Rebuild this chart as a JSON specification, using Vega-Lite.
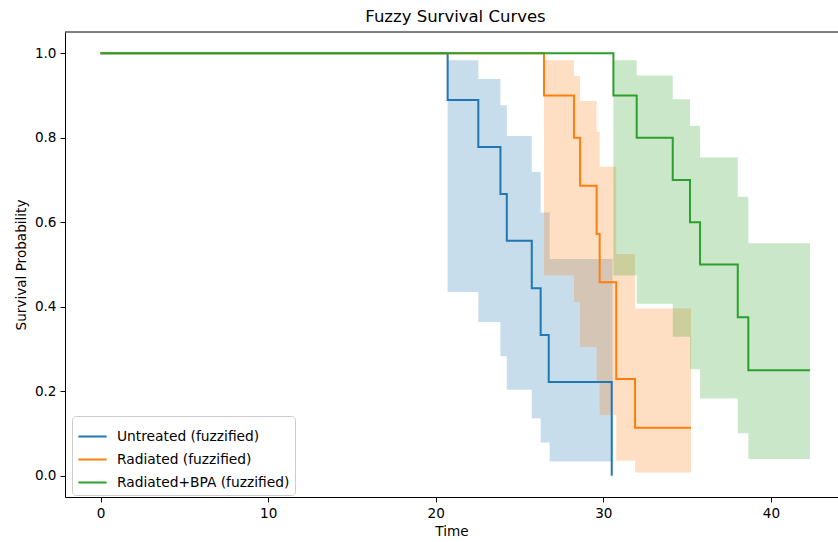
{
  "$schema": "https://vega.github.io/schema/vega-lite/v6.json",
  "width": 773,
  "height": 465,
  "autosize": {"type": "none"},
  "padding": {"left": 65, "top": 32, "right": 0, "bottom": 45},
  "title": {"text": "Fuzzy Survival Curves", "fontSize": 16.5, "font": "DejaVu Sans", "fontWeight": "normal", "color": "#000", "anchor": "middle", "offset": 6, "dx": 4},
  "config": {
    "view": {"stroke": null},
    "axis": {"domainColor": "#000", "domainWidth": 1, "tickColor": "#000", "tickSize": 5, "tickWidth": 1, "labelFont": "DejaVu Sans", "labelFontSize": 13.6, "labelColor": "#000", "labelPadding": 4, "titleFont": "DejaVu Sans", "titleFontSize": 13.6, "titleFontWeight": "normal", "titleColor": "#000", "grid": false},
    "axisY": {"titlePadding": 6},
    "axisX": {"titlePadding": 5},
    "legend": {"orient": "none", "legendX": 7, "legendY": 384, "title": null, "symbolType": "stroke", "symbolSize": 800, "symbolStrokeWidth": 2, "labelFont": "DejaVu Sans", "labelFontSize": 13.8, "labelColor": "#000", "labelOffset": 9, "labelLimit": 0, "rowPadding": -2.5, "padding": 5, "fillColor": "rgba(255,255,255,0.8)", "strokeColor": "#cccccc", "cornerRadius": 4}
  },
  "datasets": {
    "lines": [
      {"group": "Untreated (fuzzified)", "t": 0, "s": 1.0},
      {"group": "Untreated (fuzzified)", "t": 20.71, "s": 0.889},
      {"group": "Untreated (fuzzified)", "t": 22.54, "s": 0.778},
      {"group": "Untreated (fuzzified)", "t": 23.86, "s": 0.667},
      {"group": "Untreated (fuzzified)", "t": 24.24, "s": 0.556},
      {"group": "Untreated (fuzzified)", "t": 25.73, "s": 0.444},
      {"group": "Untreated (fuzzified)", "t": 26.26, "s": 0.333},
      {"group": "Untreated (fuzzified)", "t": 26.74, "s": 0.222},
      {"group": "Untreated (fuzzified)", "t": 30.5, "s": 0.0},
      {"group": "Radiated (fuzzified)", "t": 0, "s": 1.0},
      {"group": "Radiated (fuzzified)", "t": 26.46, "s": 0.9},
      {"group": "Radiated (fuzzified)", "t": 28.25, "s": 0.8},
      {"group": "Radiated (fuzzified)", "t": 28.61, "s": 0.686},
      {"group": "Radiated (fuzzified)", "t": 29.6, "s": 0.572},
      {"group": "Radiated (fuzzified)", "t": 29.78, "s": 0.458},
      {"group": "Radiated (fuzzified)", "t": 30.77, "s": 0.229},
      {"group": "Radiated (fuzzified)", "t": 31.89, "s": 0.114},
      {"group": "Radiated (fuzzified)", "t": 35.23, "s": 0.114},
      {"group": "Radiated+BPA (fuzzified)", "t": 0, "s": 1.0},
      {"group": "Radiated+BPA (fuzzified)", "t": 30.6, "s": 0.9},
      {"group": "Radiated+BPA (fuzzified)", "t": 31.99, "s": 0.8},
      {"group": "Radiated+BPA (fuzzified)", "t": 34.14, "s": 0.7},
      {"group": "Radiated+BPA (fuzzified)", "t": 35.17, "s": 0.6},
      {"group": "Radiated+BPA (fuzzified)", "t": 35.77, "s": 0.5},
      {"group": "Radiated+BPA (fuzzified)", "t": 38.02, "s": 0.375},
      {"group": "Radiated+BPA (fuzzified)", "t": 38.65, "s": 0.25},
      {"group": "Radiated+BPA (fuzzified)", "t": 42.33, "s": 0.25}
    ],
    "bands": [
      {"group": "Untreated (fuzzified)", "t": 20.71, "lo": 0.435, "hi": 0.983},
      {"group": "Untreated (fuzzified)", "t": 22.54, "lo": 0.364, "hi": 0.939},
      {"group": "Untreated (fuzzified)", "t": 23.86, "lo": 0.283, "hi": 0.877},
      {"group": "Untreated (fuzzified)", "t": 24.24, "lo": 0.204, "hi": 0.804},
      {"group": "Untreated (fuzzified)", "t": 25.73, "lo": 0.136, "hi": 0.719},
      {"group": "Untreated (fuzzified)", "t": 26.26, "lo": 0.079, "hi": 0.623},
      {"group": "Untreated (fuzzified)", "t": 26.8, "lo": 0.034, "hi": 0.513},
      {"group": "Untreated (fuzzified)", "t": 30.55, "lo": 0.034, "hi": 0.513},
      {"group": "Radiated (fuzzified)", "t": 26.46, "lo": 0.474, "hi": 0.983},
      {"group": "Radiated (fuzzified)", "t": 28.25, "lo": 0.411, "hi": 0.946},
      {"group": "Radiated (fuzzified)", "t": 28.61, "lo": 0.305, "hi": 0.887},
      {"group": "Radiated (fuzzified)", "t": 29.6, "lo": 0.222, "hi": 0.814},
      {"group": "Radiated (fuzzified)", "t": 29.78, "lo": 0.144, "hi": 0.731},
      {"group": "Radiated (fuzzified)", "t": 30.77, "lo": 0.036, "hi": 0.525},
      {"group": "Radiated (fuzzified)", "t": 31.89, "lo": 0.008, "hi": 0.396},
      {"group": "Radiated (fuzzified)", "t": 35.23, "lo": 0.008, "hi": 0.396},
      {"group": "Radiated+BPA (fuzzified)", "t": 30.6, "lo": 0.474, "hi": 0.983},
      {"group": "Radiated+BPA (fuzzified)", "t": 31.99, "lo": 0.407, "hi": 0.947},
      {"group": "Radiated+BPA (fuzzified)", "t": 34.14, "lo": 0.329, "hi": 0.891},
      {"group": "Radiated+BPA (fuzzified)", "t": 35.17, "lo": 0.252, "hi": 0.828},
      {"group": "Radiated+BPA (fuzzified)", "t": 35.77, "lo": 0.183, "hi": 0.753},
      {"group": "Radiated+BPA (fuzzified)", "t": 38.02, "lo": 0.101, "hi": 0.66},
      {"group": "Radiated+BPA (fuzzified)", "t": 38.65, "lo": 0.04, "hi": 0.55},
      {"group": "Radiated+BPA (fuzzified)", "t": 42.33, "lo": 0.04, "hi": 0.55}
    ],
    "frame": [{"top": 1.05}]
  },
  "layer": [
    {
      "data": {"name": "bands"},
      "mark": {"type": "area", "interpolate": "step-after", "opacity": 0.25},
      "encoding": {
        "x": {"field": "t", "type": "quantitative", "scale": {"domain": [-2.12, 44.0], "nice": false, "zero": false}, "axis": {"orient": "bottom", "values": [0, 10, 20, 30, 40], "title": "Time"}},
        "y": {"field": "lo", "type": "quantitative", "scale": {"domain": [-0.05, 1.05], "nice": false, "zero": false}, "axis": {"values": [0, 0.2, 0.4, 0.6, 0.8, 1.0], "format": ".1f", "title": "Survival Probability"}},
        "y2": {"field": "hi"},
        "color": {"field": "group", "type": "nominal", "scale": {"domain": ["Untreated (fuzzified)", "Radiated (fuzzified)", "Radiated+BPA (fuzzified)"], "range": ["#1f77b4", "#ff7f0e", "#2ca02c"]}, "legend": null}
      }
    },
    {
      "data": {"name": "frame"},
      "mark": {"type": "rule", "color": "#000", "strokeWidth": 1},
      "encoding": {
        "y": {"field": "top", "type": "quantitative", "axis": null}
      }
    },
    {
      "data": {"name": "lines"},
      "mark": {"type": "line", "interpolate": "step-after", "strokeWidth": 2},
      "encoding": {
        "x": {"field": "t", "type": "quantitative", "axis": null},
        "y": {"field": "s", "type": "quantitative", "axis": null},
        "color": {"field": "group", "type": "nominal", "legend": {}}
      }
    }
  ],
  "resolve": {"axis": {"x": "independent", "y": "independent"}, "legend": {"color": "independent"}}
}
